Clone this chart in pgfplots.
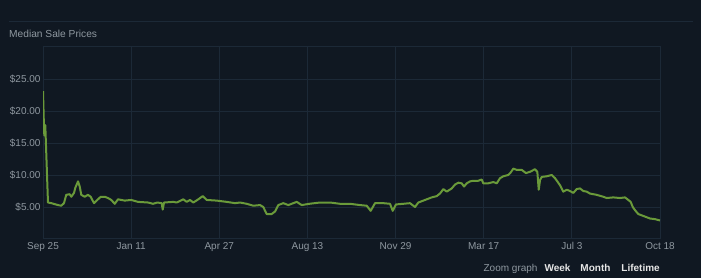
\documentclass[border=0pt]{standalone}
\usepackage{fontspec}
\setmainfont{Liberation Sans}
\usepackage{pgfplots}
\pgfplotsset{compat=1.18}
\definecolor{bg}{HTML}{101822}
\definecolor{gridc}{HTML}{1C2937}
\definecolor{linec}{HTML}{6A9A3A}
\definecolor{txt}{HTML}{8F98A0}
\definecolor{wtxt}{HTML}{E6E6E6}
\begin{document}
\begin{tikzpicture}[x=1pt,y=1pt]
\fill[bg] (0,0) rectangle (701,278);
\useasboundingbox (0,0) rectangle (701,278);
\draw[gridc, line width=1pt] (9,256) -- (693,256);
\node[anchor=west, text=txt, font=\fontsize{10.2}{12}\selectfont, inner sep=0pt] at (9,244) {Median Sale Prices};
\begin{axis}[
  at={(43pt,39pt)}, anchor=south west,
  scale only axis, width=617pt, height=192pt,
  xmin=0, xmax=756, ymin=0, ymax=30,
  axis line style={gridc, line width=1pt},
  grid=major, grid style={gridc, line width=0.8pt},
  xtick={0,108,216,324,432,540,648,756},
  xticklabels={Sep 25,Jan 11,Apr 27,Aug 13,Nov 29,Mar 17,Jul 3,Oct 18},
  ytick={5,10,15,20,25},
  yticklabels={\$5.00,\$10.00,\$15.00,\$20.00,\$25.00},
  tick style={draw=none},
  ticklabel style={text=txt, font=\fontsize{10}{12}\selectfont},
  /pgf/number format/assume math mode=true,
  xticklabel style={yshift=0pt},
  yticklabel style={xshift=1pt},
]
\addplot[linec, line width=2pt, line join=round] coordinates {
(0,23.1)(1.2,17.5)(1.6,16.2)(2.8,17.8)(6.1,5.7)(10.2,5.6)(18.4,5.3)(22.4,5.2)(25.7,5.6)(28.5,6.9)(32.7,7.0)(34.7,6.6)(38.0,7.2)(39.6,8.0)(42.9,9.0)(45.0,8.2)(46.9,6.9)(51.1,6.6)(55.1,6.9)(58.4,6.6)(62.5,5.6)(67.4,6.2)(70.7,6.6)(75.6,6.6)(79.6,6.4)(83.7,6.1)(87.9,5.5)(91.9,6.2)(100.1,6.0)(108.2,6.1)(116.4,5.8)(128.7,5.7)(134.8,5.5)(140.1,5.7)(145.4,5.6)(146.7,4.6)(148.3,5.7)(159.7,5.8)(163.8,5.7)(171.9,6.2)(176.1,5.8)(180.1,6.1)(184.2,5.7)(190.3,6.2)(195.7,6.7)(200.6,6.1)(212.8,6.0)(225.1,5.8)(235.3,5.6)(241.4,5.7)(249.6,5.5)(257.7,5.2)(265.9,5.3)(269.9,5.0)(274.1,3.9)(280.2,3.9)(284.3,4.3)(288.3,5.3)(294.4,5.6)(300.6,5.3)(306.7,5.6)(310.9,5.8)(317.0,5.3)(326.3,5.5)(339.4,5.7)(351.7,5.7)(363.9,5.5)(376.2,5.5)(388.4,5.3)(396.6,5.2)(401.5,4.4)(406.8,5.6)(417.0,5.6)(425.2,5.5)(428.5,4.4)(432.5,5.4)(441.5,5.5)(449.7,5.6)(455.8,5.0)(459.9,5.7)(468.1,6.1)(476.3,6.5)(482.4,6.7)(486.4,7.1)(490.5,7.8)(494.7,7.4)(500.8,7.9)(504.8,8.5)(508.9,8.8)(513.0,8.7)(515.9,8.2)(519.2,8.7)(523.2,9.0)(527.3,9.1)(533.4,9.1)(537.5,9.3)(539.5,8.7)(545.6,8.7)(551.8,8.9)(555.9,8.7)(560.0,9.5)(564.0,9.8)(570.1,10.0)(573.1,10.4)(576.3,11.0)(580.4,10.8)(586.6,10.8)(591.8,10.3)(596.7,10.5)(602.8,10.9)(605.7,10.5)(607.4,7.7)(609.0,9.2)(611.1,9.7)(617.2,9.8)(623.3,10.0)(627.4,9.5)(633.5,8.4)(637.5,7.4)(641.7,7.7)(645.7,7.5)(649.8,7.2)(653.9,7.8)(658.0,7.9)(662.0,7.5)(666.2,7.4)(670.2,7.1)(674.3,7.0)(678.4,6.9)(686.5,6.6)(690.7,6.4)(698.8,6.5)(707.0,6.4)(713.1,6.5)(717.2,6.1)(720.1,5.8)(722.6,5.0)(725.4,4.5)(729.4,3.9)(735.6,3.6)(743.8,3.2)(749.9,3.1)(756,2.9)
};
\end{axis}
\node[anchor=east, inner sep=0pt, font=\fontsize{10}{12}\selectfont] at (660,9)
  {\textcolor{txt}{Zoom graph}\hspace{7pt}\textcolor{wtxt}{\bfseries Week}\hspace{10pt}\textcolor{wtxt}{\bfseries Month}\hspace{11pt}\textcolor{wtxt}{\bfseries Lifetime}};
\end{tikzpicture}
\end{document}
